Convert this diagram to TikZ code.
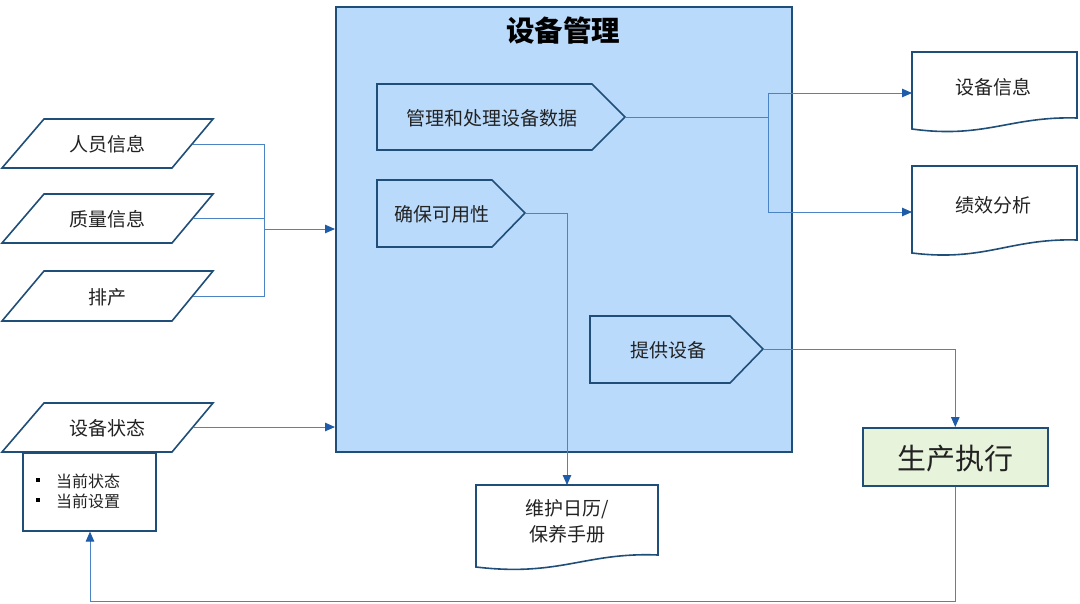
\documentclass[tikz,border=0pt]{standalone}
\usepackage{fontspec}
\setmainfont{Noto Sans CJK SC}
\usetikzlibrary{arrows.meta}
\definecolor{dkblue}{HTML}{1F4E79}
\definecolor{lnblue}{HTML}{4A84C4}
\definecolor{tipblue}{HTML}{1E5BA8}
\definecolor{boxfill}{HTML}{B9DAFB}
\definecolor{greenfill}{HTML}{E7F3DB}
\definecolor{txt}{HTML}{222222}
\begin{document}
\begin{tikzpicture}[x=1pt,y=-1pt,
  shapeline/.style={draw=dkblue, line width=1.6pt},
  conn/.style={draw=lnblue, line width=1pt},
  arr/.style={conn, -{Triangle[length=10pt,width=8.5pt,color=tipblue]}},
  lbl/.style={font=\fontsize{19}{23}\selectfont, text=txt, inner sep=0pt, yshift=-1.5pt},
  small/.style={font=\fontsize{16}{19}\selectfont, text=txt, inner sep=0pt, anchor=west, yshift=-1pt},
  bullet/.style={fill=black, minimum size=4.5pt, inner sep=0pt},
]
\useasboundingbox (0,0) rectangle (1080,603);

% main box
\node[shapeline, fill=boxfill, minimum width=456pt, minimum height=445pt, anchor=north west, inner sep=0pt] (main) at (335,6) {};
\node[font=\fontsize{28.5}{31}\selectfont\bfseries, text=black, inner sep=0pt] (title) at (563,31) {设备管理};

% pentagons
\draw[shapeline] (377,84) -- (592,84) -- (625,117) -- (592,150) -- (377,150) -- cycle;
\node[lbl] (mgmt) at (492,117) {管理和处理设备数据};
\coordinate (mgmtE) at (625,117);
\draw[shapeline] (377,180) -- (492,180) -- (525,213) -- (492,247) -- (377,247) -- cycle;
\node[lbl] (avail) at (442,213) {确保可用性};
\coordinate (availE) at (525,213);
\draw[shapeline] (590,316) -- (730,316) -- (763,349) -- (730,383) -- (590,383) -- cycle;
\node[lbl] (prov) at (668,349) {提供设备};
\coordinate (provE) at (763,349);

% left inputs
\draw[shapeline, fill=white] (44,119) -- (213,119) -- (172,168) -- (2,168) -- cycle;
\node[lbl] (p1) at (107,143) {人员信息};
\coordinate (p1E) at (193,144);
\draw[shapeline, fill=white] (44,194) -- (213,194) -- (172,243) -- (2,243) -- cycle;
\node[lbl] (p2) at (107,218) {质量信息};
\coordinate (p2E) at (193,218);
\draw[shapeline, fill=white] (44,271) -- (213,271) -- (172,321) -- (2,321) -- cycle;
\node[lbl] (p3) at (107,296) {排产};
\coordinate (p3E) at (193,296);

% status box
\node[shapeline, fill=white, minimum width=133pt, minimum height=78pt, anchor=north west, inner sep=0pt] (stbox) at (22,452) {};
\node[bullet] (b1) at (38,480) {};
\node[small] (s1) at (56,480) {当前状态};
\node[bullet] (b2) at (38,500) {};
\node[small] (s2) at (56,500) {当前设置};
\draw[shapeline, fill=white] (44,403) -- (213,403) -- (172,452) -- (2,452) -- cycle;
\node[lbl] (p4) at (107,427) {设备状态};
\coordinate (p4E) at (193,427);

% right documents
\draw[shapeline, fill=white] (912,52) -- (1077,52) -- (1077,118) .. controls (1010,116) and (985,139) .. (912,129) -- cycle;
\node[lbl] (d1) at (993,86) {设备信息};
\coordinate (d1W) at (912,93);
\draw[shapeline, fill=white] (912,166) -- (1077,166) -- (1077,240) .. controls (1010,238) and (985,262) .. (912,253) -- cycle;
\node[lbl] (d2) at (993,204) {绩效分析};
\coordinate (d2W) at (912,212);

% maintenance doc
\draw[shapeline, fill=white] (476,485) -- (658,485) -- (658,555) .. controls (585,552) and (560,577) .. (476,567) -- cycle;
\node[lbl, align=center, font=\fontsize{19}{26}\selectfont] (maint) at (567,520) {维护日历/\\保养手册};
\coordinate (maintN) at (567,485);

% production execution
\node[shapeline, fill=greenfill, minimum width=185pt, minimum height=58pt, anchor=north west, inner sep=0pt] (exec) at (862,427) {};
\node[font=\fontsize{29}{33}\selectfont, text=txt, inner sep=0pt, yshift=-1.5pt] (execT) at (exec.center) {生产执行};

% connectors
\coordinate (jL) at (264,229);
\draw[conn] (p1E) -| (264,296) -- (p3E);
\draw[conn] (p2E) -- (264,218);
\draw[arr] (jL) -- (jL -| main.west);
\draw[arr] (p4E) -- (p4E -| main.west);

\coordinate (jR) at (768,117);
\draw[conn] (mgmtE) -- (jR);
\draw[conn] (768,93) -- (768,212);
\draw[arr] (768,93) -- (d1W);
\draw[arr] (768,212) -- (d2W);

\draw[arr] (availE) -| (maintN);
\draw[arr] (provE) -| (exec.north);

\coordinate (fb1) at (955,601);
\coordinate (fb2) at (90,601);
\draw[arr] (exec.south -| fb1) -- (fb1) -- (fb2) -- (stbox.south -| fb2);
\end{tikzpicture}
\end{document}
